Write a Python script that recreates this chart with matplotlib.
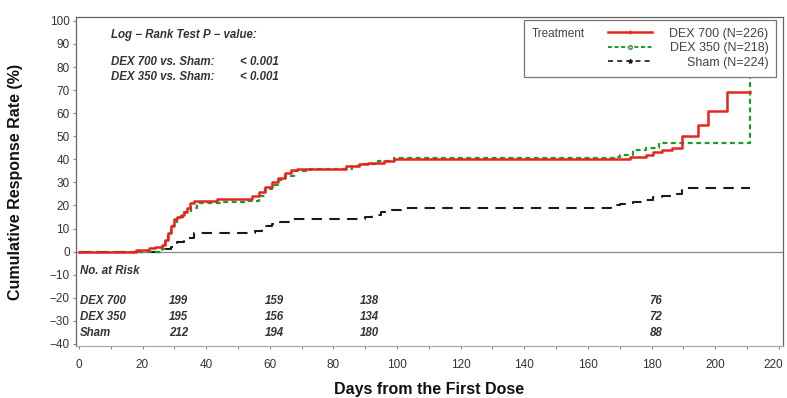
import matplotlib
matplotlib.use("Agg")
import matplotlib.pyplot as plt
import matplotlib.transforms as mtrans
from matplotlib.lines import Line2D
from matplotlib.offsetbox import TextArea, VPacker

plt.rcParams['font.family'] = ['Liberation Sans', 'DejaVu Sans']

# ---- data ----
dex700_t = [0, 18, 22, 24, 26, 27, 28, 29, 30, 31, 32, 33, 34, 35, 36.2, 43.3, 54.5, 56.5, 58.6, 60.6, 62.6,
            64.7, 66.7, 68.7, 84, 88, 91, 96, 99.2, 173.3, 178.3, 180.4, 183.4, 186.5, 189.5, 194.6, 197.6,
            203.7, 210.8]
dex700_v = [0, 0.5, 1.5, 2, 3, 5, 8, 11, 14, 15, 16, 17, 19, 21, 22, 23, 24, 26, 28, 30, 32,
            34, 35.5, 36, 37, 38, 38.5, 39.5, 40, 41, 42, 43, 44, 45, 50, 55, 61,
            69, 69]

dex350_t = [0, 25, 26, 27, 28, 29, 30, 31, 33, 35.2, 37.2, 45.4, 52.5, 56.5, 58.6, 60.6, 62.6, 64.7, 67.7,
            72.8, 86, 89, 94.1, 99.2, 168.2, 170.2, 174.3, 178.3, 182.4, 210.8]
dex350_v = [0, 0, 1, 4, 8, 11, 13, 15, 17, 19, 21, 21.5, 22, 24, 27, 29, 31, 33, 35,
            36, 37, 38, 39.5, 40.5, 41, 42, 44, 45, 47, 76]

sham_t = [0, 26, 27, 29, 30, 31, 33, 34, 36.2, 55.5, 57.5, 58.6, 60.6, 62.6, 66.7, 90, 92, 95.1, 98.2,
          101.2, 167.2, 170.2, 174.3, 177.3, 180.4, 183.4, 186.5, 189.5, 210.8]
sham_v = [0, 0, 1, 2, 3, 4, 5, 6, 8, 9, 10, 11, 12, 13, 14, 15, 16, 17, 18,
          19, 20, 20.7, 21.5, 22.5, 23.5, 24.3, 25, 27.5, 27.5]

series_names = ["DEX 700", "DEX 350", "Sham"]
legend_labels = ["DEX 700 (N=226)", "DEX 350 (N=218)", "Sham (N=224)"]
risk_days = [30, 60, 90, 180]
risk_counts = {
    "DEX 700": [199, 159, 138, 76],
    "DEX 350": [195, 156, 134, 72],
    "Sham": [212, 194, 180, 88],
}
risk_rows_y = [-21.6, -28.4, -35.3]
pvalue_rows = [("DEX 700 vs. Sham:", "< 0.001"), ("DEX 350 vs. Sham:", "< 0.001")]
xticks = list(range(0, 221, 20))
yticks = list(range(-40, 101, 10))

red = '#e5251f'
green = '#1f9a2a'
black = '#1a1a1a'
txtc = '#333333'

fig = plt.figure(figsize=(7.87, 3.98), dpi=100)
ax = fig.add_axes([76/787, 1-346/398, (783-76)/787, (346-17)/398])

ax.axhline(0, color='#888888', lw=0.9, zorder=1)

ax.step(sham_t, sham_v, where='post', color=black, lw=1.5, dashes=(5, 3.5), zorder=3)
ax.step(dex350_t, dex350_v, where='post', color=green, lw=1.6, dashes=(2.2, 1.6), zorder=4)
ax.step(dex700_t, dex700_v, where='post', color=red, lw=1.8, zorder=5)

ax.set_xlim(-0.9, 221.3)
ax.set_ylim(-40.9, 101.7)
ax.set_xticks(xticks)
ax.set_xticks(list(range(10, 220, 20)), minor=True)
ax.set_yticks(yticks)
ax.set_yticklabels([str(v).replace('-', '\u2212') for v in yticks])
ax.tick_params(axis='both', which='both', labelsize=8.5, labelcolor=txtc, color='#888888', length=2.5, width=0.8)
ax.tick_params(axis='x', pad=7)
ax.tick_params(axis='y', pad=2)

# keep the last (partly off-edge) x tick label inside the canvas
last = ax.get_xticklabels()[-1]
last.set_transform(last.get_transform() + mtrans.ScaledTranslation(-4/72, 0, fig.dpi_scale_trans))

for s in ['top', 'left', 'right']:
    ax.spines[s].set_color('#666666')
    ax.spines[s].set_linewidth(0.9)
ax.spines['bottom'].set_color('#aaaaaa')
ax.spines['bottom'].set_linewidth(0.9)

ax.set_xlabel("Days from the First Dose", fontsize=11.5, fontweight='bold', color='#111111', labelpad=8)
ax.set_ylabel("Cumulative Response Rate (%)", fontsize=11.5, fontweight='bold', color='#111111', labelpad=19)

# p-value annotation
ann = dict(fontsize=8.3, style='italic', fontweight='bold', color=txtc, va='center')
ax.text(10.1, 94, "Log \u2212 Rank Test P \u2212 value:", **ann)
for (lab, pv), yv in zip(pvalue_rows, [82, 75.5]):
    ax.text(10.1, yv, lab, **ann)
    ax.text(50.5, yv, pv, **ann)

# number at risk
ax.text(0.3, -8.6, "No. at Risk", **ann)
shift = ax.transData + mtrans.ScaledTranslation(3/72, 0, fig.dpi_scale_trans)
for name, yv in zip(series_names, risk_rows_y):
    ax.text(0.3, yv, name, **ann)
    for d, n in zip(risk_days, risk_counts[name]):
        ax.text(d, yv, str(n), fontsize=8.3, style='italic', fontweight='bold', color=txtc,
                ha='center', va='center', transform=shift)

# legend
handles = [
    Line2D([], [], color=red, lw=1.8, marker='|', markersize=3),
    Line2D([], [], color=green, lw=1.4, dashes=(2, 1.4), marker='o', markersize=2.5, markerfacecolor='white'),
    Line2D([], [], color=black, lw=1.2, dashes=(3, 2.5), marker='*', markersize=3),
]
leg = ax.legend(handles, legend_labels, loc='upper right',
                bbox_to_anchor=(776/787, 1-20/398), bbox_transform=fig.transFigure,
                borderaxespad=0, fontsize=9, handlelength=3.5, labelspacing=0.2,
                borderpad=0.62, fancybox=False, framealpha=1, edgecolor='#777777',
                labelcolor='#444444', markerscale=1.0)
leg.get_frame().set_linewidth(0.9)
hbox = leg._legend_handle_box
for col in hbox.get_children():
    for row in col.get_children():
        row.mode = 'expand'
        row.width = 160
treat = TextArea("Treatment", textprops=dict(fontsize=8.5, color='#444444'))
tcol = VPacker(pad=0, sep=0, children=[treat])
tcol.set_figure(fig)
hbox._children.insert(0, tcol)
hbox.sep = 17

fig.savefig("out.png", dpi=100)
